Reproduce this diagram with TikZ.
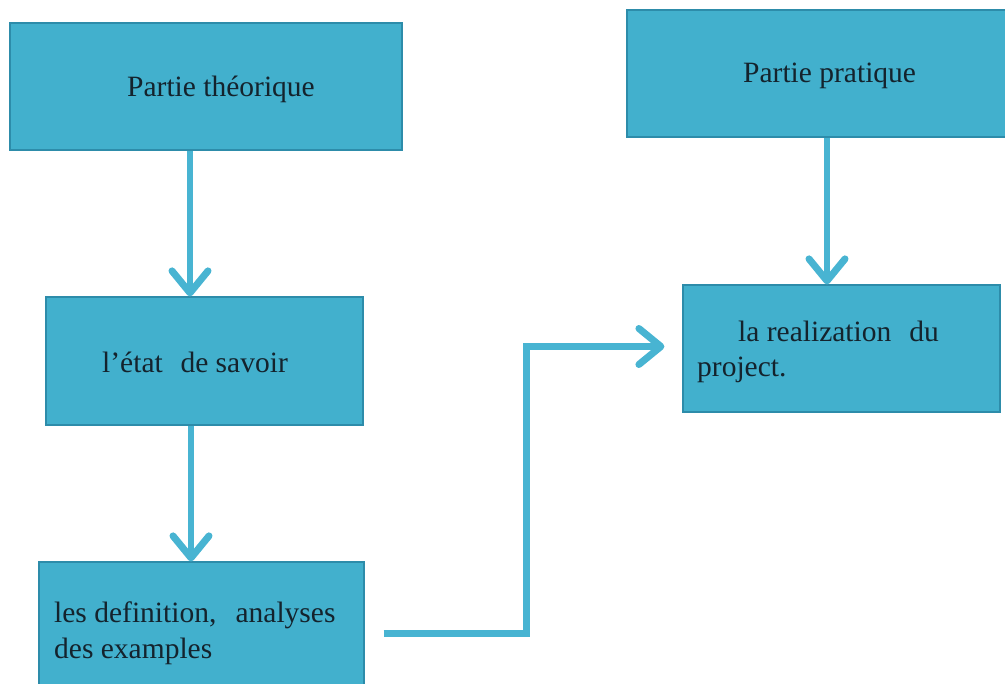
\documentclass[tikz,border=0pt]{standalone}
\usepackage{fontspec}
\setmainfont{Liberation Serif}
\usetikzlibrary{arrows.meta}
\definecolor{boxfill}{RGB}{66,176,205}
\definecolor{boxline}{RGB}{45,140,170}
\definecolor{arr}{RGB}{72,180,210}
\definecolor{txt}{RGB}{20,35,45}
\begin{document}
\begin{tikzpicture}[x=1pt,y=-1pt,
  box/.style={draw=boxline, line width=1.2pt, fill=boxfill, rectangle, inner sep=0pt},
  lab/.style={anchor=base west, inner sep=0pt, font=\fontsize{29.5}{35}\selectfont, text=txt},
  flow/.style={draw=arr, line width=5.5pt, -{Straight Barb[round,length=22pt,width=36pt,line width=7pt]}}]
\useasboundingbox (0,0) rectangle (1005,684);
\clip (0,0) rectangle (1005,684);
% boxes
\node[box, minimum width=392pt, minimum height=127pt] (b1) at (206,86.5) {};
\node[box, minimum width=381pt, minimum height=127pt] (b2) at (817.5,73.5) {};
\node[box, minimum width=317pt, minimum height=128pt] (b3) at (204.5,361) {};
\node[box, minimum width=317pt, minimum height=127pt] (b4) at (841.5,348.5) {};
\node[box, minimum width=325pt, minimum height=128pt] (b5) at (201.5,626) {};
% texts
\node[lab] (t1) at (127,97) {Partie théorique};
\node[lab] (t2) at (743,83) {Partie pratique};
\node[lab] (t3) at (102,373) {l’état\hspace{0.35em} de savoir};
\node[lab] (t4a) at (738,342) {la realization\hspace{0.36em} du};
\node[lab] (t4b) at (697,377) {project.};
\node[lab] (t5a) at (54,623) {les definition,\hspace{0.4em} analyses};
\node[lab] (t5b) at (54,659) {des examples};
% connectors
\draw[flow] ([xshift=-16pt]b1.south) -- ([xshift=-14.5pt]b3.north);
\draw[flow] ([xshift=-13.5pt]b3.south) -- ([xshift=-10.5pt]b5.north);
\draw[flow] ([xshift=9.5pt]b2.south) -- ([xshift=-14.5pt]b4.north);
\draw[flow, line width=7pt] ([shift={(19,7)}]b5.east) -- ++(143,0) |- ([shift={(-18,-2)}]b4.west);
\end{tikzpicture}
\end{document}
